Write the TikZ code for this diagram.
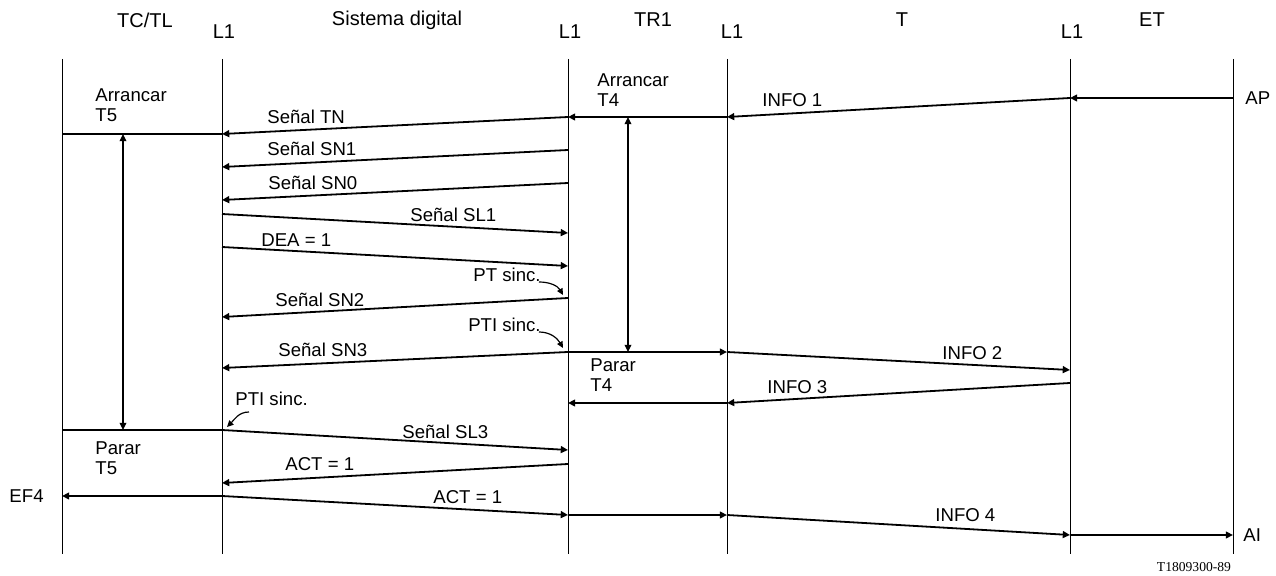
\documentclass[tikz,border=0pt]{standalone}
\usepackage{fontspec}
\setmainfont{Liberation Sans}
\newfontfamily\refserif{Liberation Serif}
\usetikzlibrary{arrows.meta, positioning}
\tikzset{
  life/.style={line width=0.5pt},
  msg/.style={line width=0.9pt, -{Triangle[length=3.6pt,width=3.4pt]}},
  seg/.style={line width=0.9pt},
  timer/.style={line width=0.6pt, {Triangle[length=3.6pt,width=3.4pt]}-{Triangle[length=3.6pt,width=3.4pt]}},
  hint/.style={line width=0.6pt, -{Triangle[length=3.2pt,width=3pt]}},
  lbl/.style={inner sep=0pt, align=left, font=\fontsize{9.3}{10.2}\selectfont},
  head/.style={inner sep=0pt, font=\fontsize{10}{12}\selectfont},
}

\begin{document}
\begin{tikzpicture}[x=0.5pt, y=-0.5pt]
  \useasboundingbox (0,0) rectangle (1276,576);

  % lifelines and headers
  \foreach \i/\x in {0/62,1/222,2/568,3/727,4/1070,5/1233}{
    \coordinate (top\i) at (\x,59);
    \coordinate (bot\i) at (\x,554);
    \draw[life] (top\i) -- (bot\i);
  }
  \node[head] (tctl) at (145,20) {TC/TL};
  \node[head] (sdig) at (397,20) {Sistema digital};
  \node[head] (tr1) at (653,20) {TR1};
  \node[head] (tbox) at (902,20) {T};
  \node[head] (et) at (1152,20) {ET};
  \foreach \i/\x in {1/224,2/570,3/732,4/1072}
    \node[head] (lone\i) at (\x,32) {L1};

  % message end points
  \foreach \n/\x/\y in {ap0/1233/98, ap1/1070/98, in1/727/117, tr/568/117, tn/222/134, tc/62/134,
      sn1a/568/150, sn1b/222/167, sn0a/568/183, sn0b/222/200,
      sl1a/222/214, sl1b/568/233, deaa/222/247, deab/568/266,
      sn2a/568/298, sn2b/222/317, sn3a/568/352, sn3b/222/368, sn3c/727/352, in2/1070/370,
      in3a/1070/383, in3b/727/403, in3c/568/403,
      sl3o/62/430, sl3a/222/430, sl3b/568/450, acta/568/464, actb/222/483,
      ef4/62/496, act2a/222/496, act2b/568/515, act2c/727/515, in4/1070/535, ai/1233/535,
      t5a/123/134, t5b/123/430, t4a/628/117, t4b/628/352,
      pt0/539/282, pt1/563/295, pti0/539/332, pti1/563/348, ptl0/249/412, ptl1/227/427}
    \coordinate (\n) at (\x,\y);

  % messages
  \draw[msg] (ap0) -- (ap1);
  \draw[msg] (ap1) -- (in1);
  \draw[msg] (in1) -- (tr);
  \draw[msg] (tr) -- (tn);
  \draw[line width=0.6pt] (tc) -- (tn);
  \draw[msg] (sn1a) -- (sn1b);
  \draw[msg] (sn0a) -- (sn0b);
  \draw[msg] (sl1a) -- (sl1b);
  \draw[msg] (deaa) -- (deab);
  \draw[msg] (sn2a) -- (sn2b);
  \draw[msg] (sn3a) -- (sn3b);
  \draw[msg] (sn3a) -- (sn3c);
  \draw[msg] (sn3c) -- (in2);
  \draw[msg] (in3a) -- (in3b);
  \draw[msg] (in3b) -- (in3c);
  \draw[seg] (sl3o) -- (sl3a);
  \draw[msg] (sl3a) -- (sl3b);
  \draw[msg] (acta) -- (actb);
  \draw[msg] (act2a) -- (ef4);
  \draw[msg] (act2a) -- (act2b);
  \draw[msg] (act2b) -- (act2c);
  \draw[msg] (act2c) -- (in4);
  \draw[msg] (in4) -- (ai);

  % timers
  \draw[timer] (t5a) -- (t5b);
  \draw[timer] (t4a) -- (t4b);
  \draw[hint] (pt0) to[out=0, in=120] (pt1);
  \draw[hint] (pti0) to[out=0, in=120] (pti1);
  \draw[hint] (ptl0) to[out=180, in=45] (ptl1);

  % labels
  \node[lbl, anchor=west] (arr5) at (95,105) {Arrancar\\T5};
  \node[lbl, anchor=west] (arr4) at (597,90) {Arrancar\\T4};
  \node[lbl, anchor=west] (par4) at (590,375) {Parar\\T4};
  \node[lbl, anchor=west] (par5) at (95,458) {Parar\\T5};
  \node[lbl, anchor=west] (ltn) at (267,117) {Señal TN};
  \node[lbl, anchor=west] (lsn1) at (267,149) {Señal SN1};
  \node[lbl, anchor=west] (lsn0) at (268,183) {Señal SN0};
  \node[lbl, anchor=west] (lsl1) at (410,215) {Señal SL1};
  \node[lbl, anchor=west] (ldea) at (261,240) {DEA = 1};
  \node[lbl, anchor=east] (lpt) at (541,275) {PT sinc.};
  \node[lbl, anchor=west] (lsn2) at (275,300) {Señal SN2};
  \node[lbl, anchor=east] (lpti) at (541,325) {PTI sinc.};
  \node[lbl, anchor=west] (lsn3) at (278,350) {Señal SN3};
  \node[lbl, anchor=west] (lpti2) at (235,399) {PTI sinc.};
  \node[lbl, anchor=west] (lsl3) at (402,432) {Señal SL3};
  \node[lbl, anchor=west] (lact) at (285,464) {ACT = 1};
  \node[lbl, anchor=west] (lact2) at (433,497) {ACT = 1};
  \node[lbl, anchor=west] (linf1) at (762,100) {INFO 1};
  \node[lbl, anchor=west] (linf2) at (942,353) {INFO 2};
  \node[lbl, anchor=west] (linf3) at (767,387) {INFO 3};
  \node[lbl, anchor=west] (linf4) at (935,515) {INFO 4};
  \node[lbl, anchor=west] (lap) at (1245,98) {AP};
  \node[lbl, anchor=west] (lai) at (1243,535) {AI};
  \node[lbl, anchor=east] (lef4) at (44,496) {EF4};
  \node[inner sep=0pt, font=\refserif\fontsize{6.8}{8}\selectfont] (code) at (1194,567) {T1809300-89};
\end{tikzpicture}
\end{document}
